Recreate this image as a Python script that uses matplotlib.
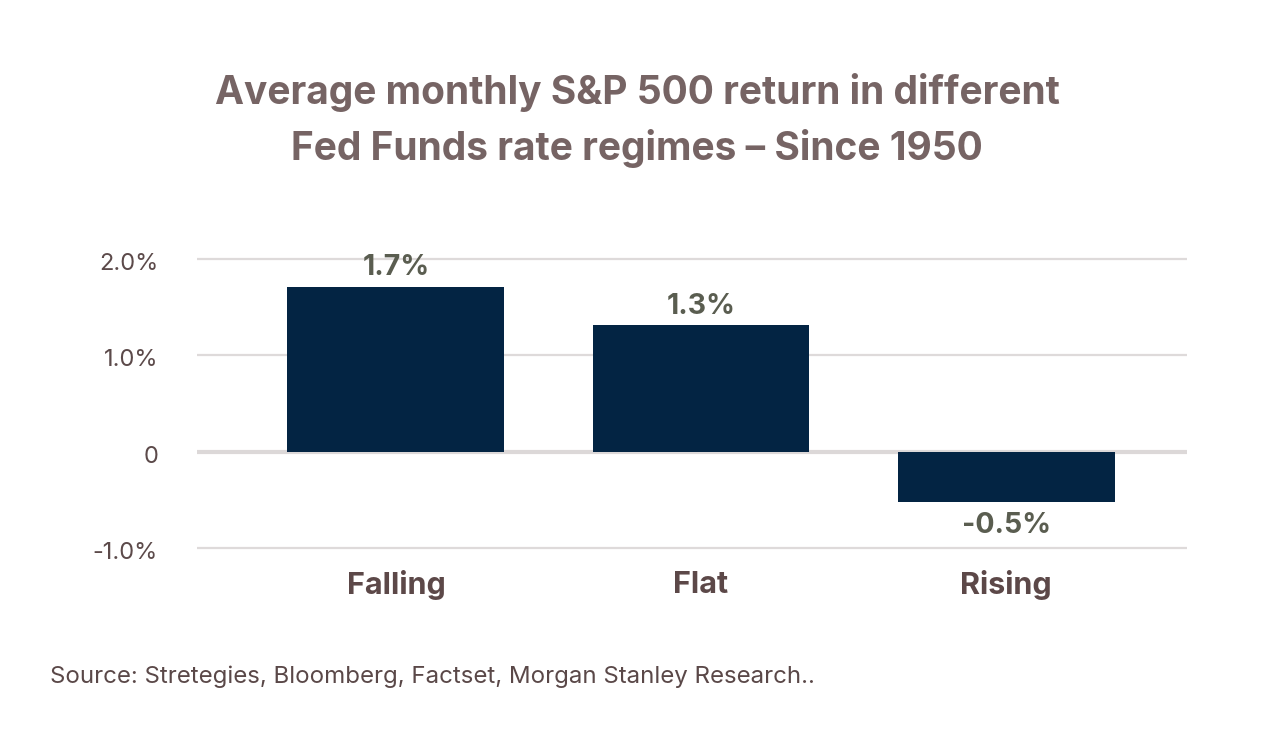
import matplotlib
matplotlib.use("Agg")
import matplotlib.pyplot as plt
import matplotlib.transforms as mtransforms

categories = ["Falling", "Flat", "Rising"]
values = [1.71, 1.31, -0.52]
value_labels = ["1.7%", "1.3%", "-0.5%"]
yticks = [-1.0, 0.0, 1.0, 2.0]
ytick_labels = ["-1.0%", "0", "1.0%", "2.0%"]
title_lines = ["Average monthly S&P 500 return in different",
               "Fed Funds rate regimes \u2013 Since 1950"]
source = "Source: Stretegies, Bloomberg, Factset, Morgan Stanley Research.."

plt.rcParams['font.family'] = ['Inter', 'DejaVu Sans']

fig = plt.figure(figsize=(12.74, 7.40), dpi=100)
fig.patch.set_facecolor("white")
ax = fig.add_axes([197/1274, 1-552.8/740, 990/1274, (552.8-254.2)/740])

x = list(range(len(categories)))
ax.bar(x, values, width=0.711, color="#032443", zorder=3)
ax.set_xlim(-0.652, 2.593)
ax.set_ylim(-1.05, 2.05)

for yv in yticks:
    if yv == 0:
        ax.axhline(yv, color="#dcd8d8", lw=3, zorder=2)
    else:
        ax.axhline(yv, color="#dedada", lw=1.6, zorder=1)

ax.set_yticks(yticks)
ax.set_yticklabels(ytick_labels, fontsize=17, color="#5c4a4a")
ax.tick_params(axis="y", length=0, pad=28)
offset = mtransforms.ScaledTranslation(0, -5/100, fig.dpi_scale_trans)
for lbl in ax.get_yticklabels():
    lbl.set_horizontalalignment("right")
    lbl.set_verticalalignment("center")
    lbl.set_transform(lbl.get_transform() + offset)
ax.set_xticks([])
for s in ax.spines.values():
    s.set_visible(False)

for xi, v, t in zip(x, values, value_labels):
    if v >= 0:
        ax.text(xi, v + 0.06, t, ha="center", va="bottom", fontsize=20.5,
                fontweight="bold", color="#5a5d50")
    else:
        ax.text(xi, v - 0.11, t, ha="center", va="top", fontsize=20.5,
                fontweight="bold", color="#5a5d50")
    ax.text(xi, -1.38, categories[xi], ha="center", va="center", fontsize=22,
            fontweight="bold", color="#5c4848")

fig.text(0.5, 1-93/740, title_lines[0], ha="center", va="center", fontsize=28,
         fontweight="bold", color="#766464")
fig.text(0.5, 1-149/740, title_lines[1], ha="center", va="center", fontsize=28,
         fontweight="bold", color="#766464")
fig.text(50/1274, 1-677/740, source,
         ha="left", va="center", fontsize=17.3, color="#5a4848")

fig.savefig("out.png", dpi=100)
